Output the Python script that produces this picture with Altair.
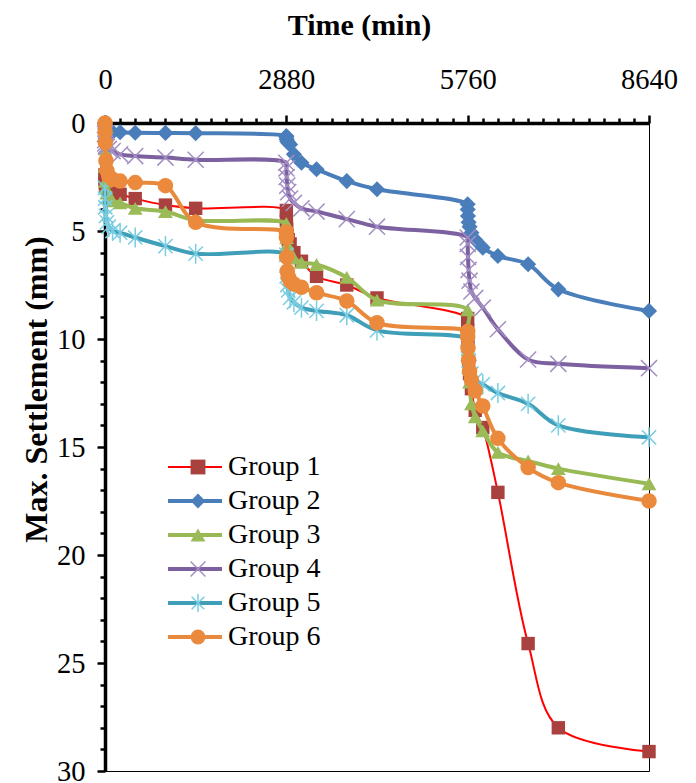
import altair as alt
import pandas as pd

groups = ["Group 1", "Group 2", "Group 3", "Group 4", "Group 5", "Group 6"]

# time (min)
t_stage1 = [0, 1, 5, 15, 30, 60, 120, 240, 480, 960, 1440, 2880]
t_stage2 = [2881, 2885, 2895, 2910, 2940, 3000, 3120, 3360, 3840, 4320, 5760]
t_stage3 = [5761, 5765, 5775, 5790, 5820, 5880, 6000, 6240, 6720, 7200, 8640]
times = t_stage1 + t_stage2 + t_stage3

# max settlement (mm)
g1 = [2.4, 2.6, 2.8, 2.9, 3.0, 3.1, 3.2, 3.3, 3.5, 3.8, 3.95, 4.05,
      4.5, 4.9, 5.2, 5.4, 5.6, 6.0, 6.4, 7.1, 7.5, 8.1, 9.05,
      9.6, 10.3, 11.0, 11.6, 12.3, 13.3, 14.1, 17.1, 24.1, 28.0, 29.1]
g2 = [0.0, 0.15, 0.25, 0.3, 0.35, 0.4, 0.42, 0.43, 0.45, 0.46, 0.47, 0.6,
      0.65, 0.75, 0.85, 0.92, 0.99, 1.45, 1.84, 2.14, 2.69, 3.07, 3.76,
      4.0, 4.3, 4.6, 4.8, 5.08, 5.4, 5.77, 6.16, 6.54, 7.7, 8.7]
g3 = [1.2, 2.0, 2.7, 3.0, 3.25, 3.45, 3.6, 3.7, 3.95, 4.1, 4.5, 4.65,
      5.0, 5.3, 5.6, 5.8, 6.0, 6.25, 6.45, 6.55, 7.15, 8.2, 8.65,
      9.5, 10.5, 11.3, 12.0, 13.0, 13.6, 14.25, 15.25, 15.65, 16.0, 16.7]
g4 = [0.5, 0.8, 0.95, 1.05, 1.1, 1.2, 1.3, 1.45, 1.53, 1.6, 1.7, 1.84,
      2.1, 2.5, 2.9, 3.2, 3.5, 3.7, 3.95, 4.1, 4.45, 4.8, 5.3,
      5.6, 6.2, 6.8, 7.3, 7.8, 8.1, 8.55, 9.55, 10.95, 11.15, 11.35]
g5 = [3.0, 3.5, 3.9, 4.3, 4.6, 4.8, 5.0, 5.08, 5.3, 5.7, 6.05, 6.1,
      6.6, 7.1, 7.5, 7.75, 8.1, 8.3, 8.55, 8.7, 8.9, 9.6, 10.0,
      10.3, 10.7, 11.0, 11.3, 11.6, 11.9, 12.1, 12.5, 13.0, 14.0, 14.55]
g6 = [0.0, 0.4, 0.9, 1.75, 2.2, 2.45, 2.6, 2.69, 2.76, 2.9, 4.6, 5.05,
      5.3, 6.2, 6.85, 7.1, 7.3, 7.45, 7.6, 7.86, 8.24, 9.25, 9.65,
      9.9, 10.4, 11.0, 11.5, 11.9, 12.4, 13.1, 14.6, 15.95, 16.65, 17.5]
series_values = [g1, g2, g3, g4, g5, g6]

x_ticks = list(range(0, 8641, 240))
y_ticks = list(range(0, 31))

line_colors = ["#FF0000", "#4A7EBB", "#98B954", "#7D60A0", "#3F9EB8", "#E8893B"]
line_widths = [2, 4, 4, 4, 4, 4]
marker_shapes = ["square", "diamond", "triangle-up",
                 "M-1,-1L1,1M-1,1L1,-1",
                 "M-0.85,-0.85L0.85,0.85M-0.85,0.85L0.85,-0.85M0,-1.2L0,1.2",
                 "circle"]
marker_fill = ["#A9413E", "#4A7EBB", "#9BBB59", "transparent", "transparent", "#EB8A3C"]
marker_stroke = ["transparent", "transparent", "transparent", "#A48FC4", "#79CDE2", "transparent"]
marker_sizes = [180, 260, 220, 260, 280, 240]

rows = []
for g, vals in zip(groups, series_values):
    for t, v in zip(times, vals):
        rows.append({"time": t, "settlement": v, "series": g, "series_m": g})
df = pd.DataFrame(rows)

FONT = "Liberation Serif"
LBL = 28.5

x_enc = alt.X("time:Q", scale=alt.Scale(domain=[0, 8640], nice=False, zero=False),
              axis=alt.Axis(orient="top", values=x_ticks, title="Time (min)",
                            labelExpr="datum.value % 2880 === 0 ? format(datum.value, 'd') : ''",
                            tickSize={"condition": {"test": "datum.value % 2880 === 0", "value": 8}, "value": 5},
                            tickWidth=2.5, tickColor="black", domainWidth=3.5, domainColor="black",
                            labelFont=FONT, labelFontSize=LBL, labelColor="black",
                            labelBaseline="middle", labelPadding=36,
                            labelOverlap=False, labelFlush=False, grid=False,
                            titleFont=FONT, titleFontSize=30, titleFontWeight="bold", titleColor="black",
                            titleX=254, titleY=-98, titleBaseline="middle"))
y_enc = alt.Y("settlement:Q", scale=alt.Scale(domain=[0, 30], reverse=True, nice=False, zero=False),
              axis=alt.Axis(orient="left", values=y_ticks, title="Max. Settlement (mm)",
                            labelExpr="datum.value % 5 === 0 ? datum.label : ''",
                            tickSize={"condition": {"test": "datum.value % 5 === 0", "value": 8}, "value": 5},
                            tickWidth=2.5, tickColor="black", domainWidth=3.5, domainColor="black",
                            labelFont=FONT, labelFontSize=LBL, labelColor="black", labelPadding=12,
                            labelOverlap=False, labelFlush=False, grid=False,
                            titleFont=FONT, titleFontSize=32, titleFontWeight="bold", titleColor="black",
                            titleX=-69, titleY=266, titleBaseline="middle"))

line_legend = alt.Legend(orient="none", legendX=76, legendY=330, title=None,
                         symbolType="M-2.7,0L2.7,0", symbolSize=400,
                         labelFont=FONT, labelFontSize=28, labelColor="black", labelOffset=19,
                         rowPadding=6, padding=0)
pt_legend = alt.Legend(orient="none", legendX=79, legendY=330, title=None,
                       symbolSize=220, symbolStrokeWidth=1.5, symbolOpacity=1,
                       labelFont=FONT, labelFontSize=28, labelOpacity=0,
                       rowPadding=6, padding=0)

color_enc = alt.Color("series:N", scale=alt.Scale(range=line_colors), legend=line_legend)
width_enc = alt.StrokeWidth("series:N", scale=alt.Scale(type="ordinal", range=line_widths),
                            legend=line_legend)
shape_enc = alt.Shape("series_m:N", scale=alt.Scale(domain=groups, range=marker_shapes), legend=pt_legend)
fill_enc = alt.Fill("series_m:N", scale=alt.Scale(domain=groups, range=marker_fill), legend=pt_legend)
stroke_enc = alt.Stroke("series_m:N", scale=alt.Scale(domain=groups, range=marker_stroke), legend=pt_legend)

base = alt.Chart(df)
layers = []
for i, g in enumerate(groups):
    ln = base.transform_filter(alt.datum.series == g).mark_line(
        interpolate="catmull-rom").encode(
        x=x_enc, y=y_enc, color=color_enc, strokeWidth=width_enc, order="time:Q")
    pt = base.transform_filter(alt.datum.series == g).mark_point(
        size=marker_sizes[i], opacity=1, strokeWidth=1.5).encode(
        x=x_enc, y=y_enc, shape=shape_enc, fill=fill_enc, stroke=stroke_enc)
    layers += [ln, pt]

chart = alt.layer(*layers).properties(
    width=544, height=648,
    padding={"left": 12, "top": 2, "right": 5, "bottom": 5},
    background="white",
).configure(font=FONT).configure_axis(labelFont=FONT, titleFont=FONT).configure_legend(
    labelFont=FONT).configure_view(stroke="black", strokeWidth=1)

chart.save("out.html", embed_options={"renderer": "svg", "actions": False})
